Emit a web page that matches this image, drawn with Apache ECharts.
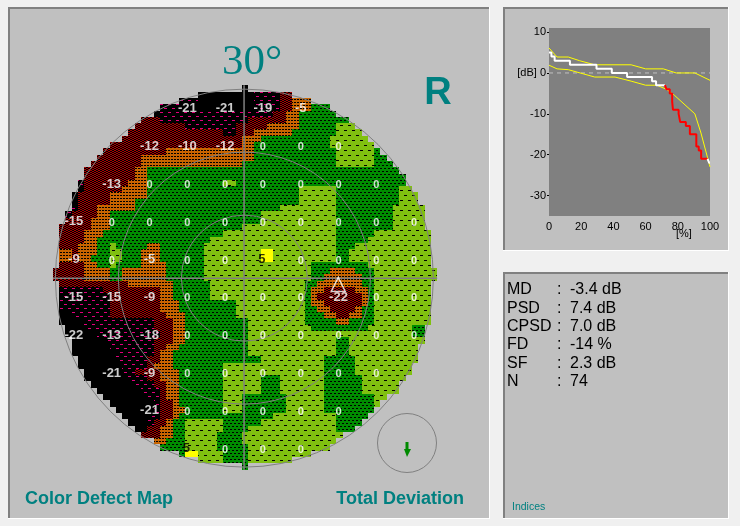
<!DOCTYPE html>
<html>
<head>
<meta charset="utf-8">
<title>Color Defect Map</title>
<script src="https://cdn.jsdelivr.net/npm/echarts@6/dist/echarts.min.js"></script>
<style>
  html, body { margin: 0; padding: 0; background: #f0f0f0; }
  #chart { width: 740px; height: 526px; }
</style>
</head>
<body>
<div id="chart"></div>
<script>
// Defect map rows, top (+30 deg) to bottom (-30 deg). Each token is a class
// letter plus the degree column where that class starts; '.' ends the row.
const MAP_TOP = 30;
const MAP_ROWS = [
  'k0 .1',
  'k-7 m2 r6 .8',
  'm-10 k-7 m2 r6 o8 .11',
  'm-13 k-10 m2 r6 o8 g11 .14',
  'k-14 m-13 r5 o7 g9 .15',
  'r-16 m-13 r1 o7 g9 .17',
  'r-17 m-9 r-1 o4 g9 l15 .18',
  'r-18 m-3 r-1 o2 g8 l15 .19',
  'r-19 o0 g3 l14 .20',
  'r-21 o0 g2 l14 .21',
  'r-22 o-12 g2 l15 g21 .22',
  'r-23 o-16 g2 l15 g21 .23',
  'r-24 o-16 g0 l15 g21 .24',
  'r-25 o-17 g-15 .25',
  'r-25 o-17 g-15 .26',
  'm-26 r-25 o-18 g-15 l-3 g-1 .26',
  'k-26 r-25 o-19 g-15 l9 g15 l25 .27',
  'k-27 r-26 o-21 g-15 l9 g15 l25 .28',
  'k-27 r-26 o-21 g-17 l9 g15 l25 .28',
  'm-27 r-26 o-23 g-17 l6 g15 l24 .29',
  'm-28 r-27 o-23 g-21 l3 g15 l24 .29',
  'r-28 o-24 g-21 l3 g15 l24 .29',
  'r-29 o-24 g-21 l0 g15 l24 .29',
  'r-29 o-25 g-22 l-3 g15 l21 .30',
  'r-29 o-25 g-23 l-5 g15 l20 .30',
  'r-29 o-26 g-23 l-21 g-20 o-15 g-13 l-6 g15 l18 .30',
  'o-29 r-27 o-26 g-23 l-21 g-19 o-16 g-13 l-6 y3 l5 g15 l17 .30',
  'o-29 r-27 o-26 g-24 l-21 g-19 o-16 g-13 l-6 y3 l5 g15 l17 .30',
  'r-29 o-25 g-23 l-21 g-20 o-16 g-12 l-6 g11 l20 .30',
  'r-30 o-25 g-21 o-19 g-12 l-6 g11 o14 g18 l21 .31',
  'r-30 o-25 g-21 o-19 g-12 l-6 g11 o13 g19 l21 .31',
  'r-29 o-18 g-11 l-5 g10 o12 g19 l21 .30',
  'm-29 r-22 o-13 g-11 l-5 g10 o11 r13 o18 g20 l21 .30',
  'm-29 r-21 o-13 g-11 l-5 g10 o11 r12 o19 g20 l21 .30',
  'm-29 r-21 o-13 g-10 l-1 g10 o11 r13 o19 g20 l21 .30',
  'm-29 r-21 o-13 g-10 l-1 g10 o12 r14 o18 g19 l21 .30',
  'k-29 m-27 r-21 o-12 g-9 l-1 g10 o13 r15 o17 g19 l21 .30',
  'k-29 m-25 r-14 o-11 g-9 l1 g10 o15 g17 l21 .30',
  'k-28 m-25 r-14 o-11 g-9 l1 g11 l20 g27 .29',
  'k-28 m-23 r-13 o-11 g-9 l1 g27 .29',
  'k-27 m-22 r-14 o-11 g-9 l1 g15 l17 .29',
  'k-27 m-21 r-14 o-12 g-10 l1 g15 l17 .28',
  'k-27 m-20 r-14 o-13 g-11 l1 g15 l17 .28',
  'k-26 m-20 r-15 o-13 g-11 l3 g13 l18 .28',
  'k-26 m-19 r-15 o-14 g-11 l-3 g13 l18 .27',
  'k-25 m-19 r-17 o-13 g-10 l-3 g13 l18 .27',
  'k-25 m-18 r-15 o-13 g-10 l-3 g3 l6 g13 l19 .26',
  'k-24 m-17 r-14 o-12 g-10 l-3 g3 l6 g13 l19 .25',
  'k-23 m-16 r-13 o-12 g-10 l-3 g3 l6 g13 l19 .25',
  'k-22 m-15 r-13 o-12 g-10 l-3 g0 l7 g13 l21 .23',
  'k-21 m-14 r-13 o-11 g-10 l-3 g0 l7 g13 l21 .22',
  'k-20 m-14 r-13 o-11 g-9 l-3 g0 l7 g13 .21',
  'k-19 m-15 r-13 o-11 g-10 l5 g15 .20',
  'k-18 m-15 r-14 o-12 g-11 l-9 g-3 l3 g15 .19',
  'k-17 r-15 o-13 g-11 l-9 g-3 l1 g15 .18',
  'r-16 o-13 g-11 l-9 g-4 l0 .16',
  'o-14 g-12 l-9 g-4 l0 .15',
  'g-13 l-9 g-4 l1 .14',
  'g-10 y-9 l-7 g-3 l1 .11',
  'l-7 g-3 l1 .8',
  'g0 .1',
];

// Tested points: row in degrees, first column, then a value every 6 degrees.
const POINT_ROWS = [27, 21, 15, 9, 3, -3, -9, -15, -21, -27];
const POINT_FIRST_COL = [-9, -15, -21, -27, -27, -27, -27, -21, -15, -9];
const POINT_VALUES = [
  [-21, -21, -19, -5],
  [-12, -10, -12, 0, 0, 0],
  [-13, 0, 0, 0, 0, 0, 0, 0],
  [-15, 0, 0, 0, 0, 0, 0, 0, 0, 0],
  [-9, 0, -5, 0, 0, 5, 0, 0, 0, 0],
  [-15, -15, -9, 0, 0, 0, 0, -22, 0, 0],
  [-22, -13, -18, 0, 0, 0, 0, 0, 0, 0],
  [-21, -9, 0, 0, 0, 0, 0, 0],
  [-21, 0, 0, 0, 0, 0],
  [5, 0, 0, 0],
];
const RING_DEGREES = [10, 20, 30];
const BLIND_SPOT = [14.8, -1.1];

// Defect curve: rank in %, deviation in dB.
const UPPER_LIMIT = [[0, 6.1], [5, 3.9], [12, 3.9], [19, 3], [28.4, 2], [51, 2], [60, 1], [71, 1], [79, 0], [90.6, 0], [100, -1.8]];
const LOWER_LIMIT = [[0, 1.9], [5, 1], [12, 0.8], [28.4, -1], [41, -1], [51, -2], [60, -3], [67, -3], [73, -4], [78, -5.5], [90.6, -10], [94.4, -14.7], [100, -23]];
const CURVE_NORMAL = [[0, 5], [1.5, 4], [3.5, 3], [13, 2], [29.5, 1], [39, 0], [48.5, -1], [64, -2], [66.5, -3], [72, -3]];
const CURVE_DEFECT = [[72, -3], [73, -4], [75, -5], [76.5, -7], [77, -9], [80.5, -10], [81.5, -12], [85, -13], [87.5, -15], [91.5, -18], [93, -19], [94.5, -21], [98.5, -21]];
const CURVE_TAIL = [[98.5, -21], [99.5, -22], [100, -22]];
const ZERO_LINE = [[0, 0], [100, 0]];
const Y_TICKS = [-30, -20, -10, 0, 10];

const INDEX_NAMES = ['MD', 'PSD', 'CPSD', 'FD', 'SF', 'N'];
const INDEX_VALUES = ['-3.4 dB', '7.4 dB', '7.0 dB', '-14 %', '2.3 dB', '74'];

const TEAL = '#008080';
const PANEL = '#c0c0c0';

// Dither tiles, each a background plus a list of [x, y, width] dashes.
function tile(w, h, bg, dash, runs) {
  const c = document.createElement('canvas');
  c.width = w;
  c.height = h;
  const ctx = c.getContext('2d');
  ctx.fillStyle = bg;
  ctx.fillRect(0, 0, w, h);
  ctx.fillStyle = dash;
  runs.forEach(r => ctx.fillRect(r[0], r[1], r[2], 1));
  return { image: c, repeat: 'repeat' };
}

const CLASS_STYLE = {
  k: '#000000',
  m: tile(8, 8, '#000000', '#e0007a', [[0, 0, 3], [4, 4, 3]]),
  r: tile(4, 2, '#a80000', '#000000', [[0, 0, 2], [2, 1, 2]]),
  o: tile(3, 3, '#c86400', '#000000', [[0, 0, 2]]),
  g: tile(4, 6, '#008c00', '#000000', [[0, 0, 2], [2, 3, 2]]),
  l: tile(8, 10, '#80c010', '#000000', [[0, 0, 3], [4, 5, 3]]),
  y: '#ffff00',
};

// Expand the run tokens into one [col, row] list per class.
function cellsByClass() {
  const cells = {};
  Object.keys(CLASS_STYLE).forEach(k => { cells[k] = []; });
  MAP_ROWS.forEach((row, i) => {
    const tokens = row.split(' ').map(t => [t[0], Number(t.slice(1))]);
    tokens.forEach((t, j) => {
      if (t[0] === '.') return;
      for (let d = t[1]; d < tokens[j + 1][1]; d++) cells[t[0]].push([d, MAP_TOP - i]);
    });
  });
  return cells;
}

function cellSeries(key, data) {
  return {
    name: key,
    type: 'custom',
    xAxisIndex: 0,
    yAxisIndex: 0,
    silent: true,
    data,
    encode: { x: 0, y: 1 },
    renderItem: (params, api) => {
      const a = api.coord([api.value(0) - 0.5, api.value(1) + 0.5]);
      const b = api.coord([api.value(0) + 0.5, api.value(1) - 0.5]);
      const x = Math.round(a[0]);
      const y = Math.round(a[1]);
      return {
        type: 'rect',
        shape: { x, y, width: Math.round(b[0]) - x, height: Math.round(b[1]) - y },
        style: { fill: CLASS_STYLE[key] },
      };
    },
  };
}

function pointSeries() {
  const data = [];
  POINT_ROWS.forEach((row, i) => {
    POINT_VALUES[i].forEach((v, j) => {
      data.push({
        value: [POINT_FIRST_COL[i] + j * 6, row, v],
        label: {
          fontSize: v === 0 ? 11 : 13,
          color: v > 0 ? '#000' : '#fff',
          offset: v > 0 ? [-2, 1] : [-1, v === 0 ? 2 : 1],
        },
      });
    });
  });
  return {
    type: 'scatter',
    xAxisIndex: 0,
    yAxisIndex: 0,
    silent: true,
    symbolSize: 0,
    z: 5,
    data,
    label: {
      show: true,
      position: 'inside',
      fontFamily: 'Liberation Sans',
      fontWeight: 'bold',
      formatter: p => String(p.value[2]),
    },
  };
}

function ringSeries() {
  return {
    type: 'custom',
    xAxisIndex: 0,
    yAxisIndex: 0,
    silent: true,
    z: 4,
    data: RING_DEGREES.map(d => [d]),
    encode: { x: 0 },
    renderItem: (params, api) => {
      const c = api.coord([-0.1, -0.1]);
      return {
        type: 'circle',
        shape: { cx: c[0], cy: c[1], r: api.size([api.value(0), 0])[0] },
        style: { fill: 'none', stroke: '#808080', lineWidth: 1 },
      };
    },
  };
}

function crossLine(data) {
  return {
    type: 'line',
    xAxisIndex: 0,
    yAxisIndex: 0,
    silent: true,
    showSymbol: false,
    z: 4,
    lineStyle: { color: '#808080', width: 1.5 },
    data,
  };
}

function curveLine(data, color, width, step) {
  return {
    type: 'line',
    xAxisIndex: 1,
    yAxisIndex: 1,
    silent: true,
    showSymbol: false,
    step: step ? 'end' : false,
    lineStyle: { color, width },
    data,
  };
}

function panel(x, y, w, h) {
  return [
    { type: 'rect', z: -2, silent: true, shape: { x, y, width: w + 1, height: h + 1 }, style: { fill: '#ffffff' } },
    { type: 'rect', z: -1, silent: true, shape: { x, y, width: w, height: h }, style: { fill: '#808080' } },
    { type: 'rect', z: -1, silent: true, shape: { x: x + 2, y: y + 2, width: w - 2, height: h - 2 }, style: { fill: PANEL } },
  ];
}

function label(x, y, text, font, fill, align) {
  return {
    type: 'text',
    silent: true,
    x,
    y,
    style: { text, font, fill: fill || '#000', textAlign: align || 'left', textVerticalAlign: 'middle' },
  };
}

function indexLabels() {
  const out = [];
  const font = '16px "Liberation Sans"';
  INDEX_NAMES.forEach((name, i) => {
    const y = 290 + i * 18.3;
    out.push(label(507, y, name, font));
    out.push(label(557, y, ':', font));
    out.push(label(570, y, INDEX_VALUES[i], font));
  });
  return out;
}

const cells = cellsByClass();
const chart = echarts.init(document.querySelector('#chart'));

chart.setOption({
  animation: false,
  backgroundColor: '#f0f0f0',
  grid: [
    { left: 52.85, top: 85.35, width: 384.3, height: 384.3, show: false },
    { left: 549, top: 28, width: 161, height: 188, show: true, backgroundColor: '#808080', borderWidth: 0 },
  ],
  xAxis: [
    { gridIndex: 0, type: 'value', min: -30.5, max: 30.5, show: false },
    {
      gridIndex: 1, type: 'value', min: 0, max: 100, interval: 20,
      axisLine: { show: false }, axisTick: { show: false }, splitLine: { show: false },
      axisLabel: { color: '#000', fontFamily: 'Liberation Sans', fontSize: 11, margin: 5 },
    },
  ],
  yAxis: [
    { gridIndex: 0, type: 'value', min: -30.5, max: 30.5, show: false },
    {
      gridIndex: 1, type: 'value', min: -35, max: 11,
      axisLine: { show: false }, splitLine: { show: false },
      axisTick: { show: true, length: 2, customValues: Y_TICKS, lineStyle: { color: '#000' } },
      axisLabel: {
        customValues: Y_TICKS, color: '#000', fontFamily: 'Liberation Sans', fontSize: 11, margin: 3,
        formatter: v => (v === 0 ? '[dB] 0' : String(v)),
      },
    },
  ],
  graphic: [
    ...panel(8, 7, 481, 511),
    ...panel(503, 7, 225, 243),
    ...panel(503, 272, 225, 246),
    label(252, 63, '30°', '43px "Liberation Serif"', TEAL, 'center'),
    label(438, 94, 'R', 'bold 38px "Liberation Sans"', TEAL, 'center'),
    label(25, 499, 'Color Defect Map', 'bold 18px "Liberation Sans"', TEAL),
    label(464, 499, 'Total Deviation', 'bold 18px "Liberation Sans"', TEAL, 'right'),
    label(512, 507, 'Indices', '10.5px "Liberation Sans"', TEAL),
    label(676, 234, '[%]', '11px "Liberation Sans"'),
    ...indexLabels(),
    { type: 'circle', silent: true, shape: { cx: 407, cy: 443, r: 29.5 }, style: { fill: 'none', stroke: '#808080', lineWidth: 1 } },
    {
      type: 'polygon', silent: true,
      shape: { points: [[405.5, 442], [408.5, 442], [408.5, 449], [411, 449], [407, 457], [404, 449], [405.5, 449]] },
      style: { fill: '#008a00' },
    },
  ],
  series: [
    ...Object.keys(CLASS_STYLE).map(k => cellSeries(k, cells[k])),
    ringSeries(),
    crossLine([[-30.5, -0.1], [30.5, -0.1]]),
    crossLine([[-0.15, -30.5], [-0.15, 30.5]]),
    pointSeries(),
    {
      type: 'scatter', xAxisIndex: 0, yAxisIndex: 0, silent: true, z: 6,
      symbol: 'triangle', symbolSize: [14, 14],
      itemStyle: { color: 'rgba(0,0,0,0)', borderColor: '#fff', borderWidth: 1.5 },
      data: [BLIND_SPOT],
    },
    {
      type: 'line', xAxisIndex: 1, yAxisIndex: 1, silent: true, showSymbol: false,
      lineStyle: { color: '#c0c0c0', width: 1, type: [4, 4] }, data: ZERO_LINE,
    },
    curveLine(UPPER_LIMIT, '#ffff00', 1, false),
    curveLine(LOWER_LIMIT, '#ffff00', 1, false),
    curveLine(CURVE_NORMAL, '#ffffff', 2, true),
    curveLine(CURVE_DEFECT, '#ff0000', 2, true),
    curveLine(CURVE_TAIL, '#ffffff', 2, true),
  ],
});
</script>
</body>
</html>
